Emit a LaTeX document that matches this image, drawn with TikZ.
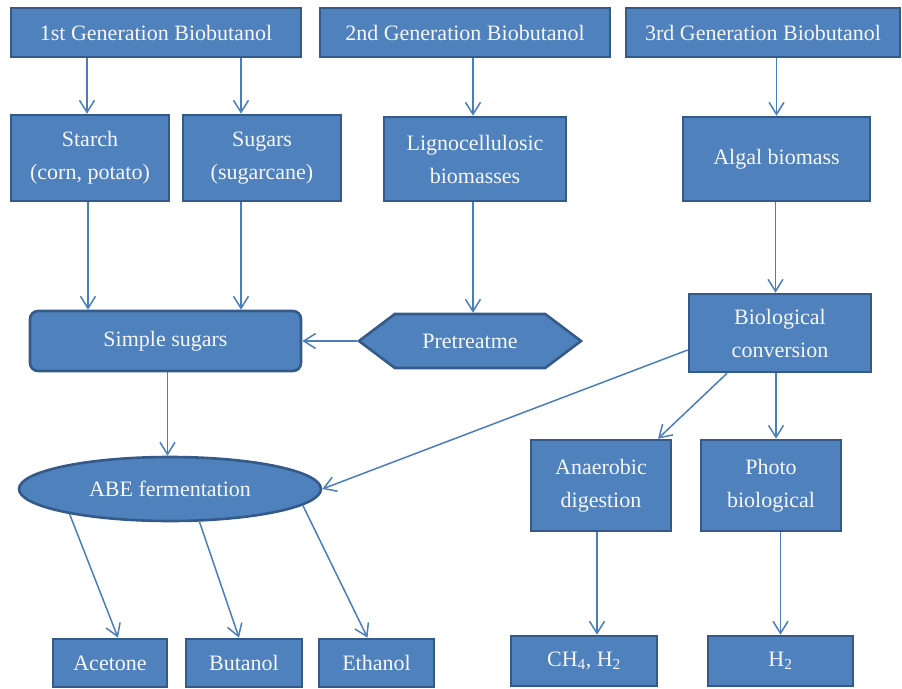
\documentclass[tikz,border=0pt]{standalone}
\usepackage{fontspec}
\setmainfont{Liberation Serif}
\usepackage{tikz}
\usetikzlibrary{arrows.meta}
\usetikzlibrary{shapes.geometric}
\usetikzlibrary{shapes.symbols}
\definecolor{boxblue}{HTML}{4F81BD}
\definecolor{edgeblue}{HTML}{335A88}
\definecolor{arrowblue}{HTML}{4A7EBB}

\begin{document}
\begin{tikzpicture}[x=1pt,y=-1pt,
    box/.style={draw=edgeblue,fill=boxblue,line width=2.6pt,text=white!94!boxblue,
      font=\fontsize{22}{33}\selectfont,align=center,inner sep=2pt},
    flow/.style={arrowblue,line width=1.5pt,-{Straight Barb[length=12pt,width=15pt]}}]
\useasboundingbox (0,0) rectangle (902,688);
\node[box,minimum width=290,minimum height=49] (gen1) at (156,32.5) {1st Generation Biobutanol};
\node[box,minimum width=290,minimum height=49] (gen2) at (465,32.5) {2nd Generation Biobutanol};
\node[box,minimum width=274,minimum height=49] (gen3) at (763,32.5) {3rd Generation Biobutanol};
\node[box,minimum width=158,minimum height=86] (starch) at (90,158) {Starch\\(corn, potato)};
\node[box,minimum width=158,minimum height=86] (sugars) at (262,158) {Sugars\\(sugarcane)};
\node[box,minimum width=182,minimum height=84] (ligno) at (475,159) {Lignocellulosic\\biomasses};
\node[box,minimum width=187,minimum height=84] (algal) at (776.5,159) {Algal biomass};
\node[box,rounded corners=8pt,minimum width=271,minimum height=60] (simple) at (165.5,341) {Simple sugars};
\node[box,signal,signal to=west and east,signal pointer angle=74,
      minimum width=222,minimum height=54] (pretreat) at (470,341) {Pretreatme};
\node[box,minimum width=182,minimum height=78] (bio) at (780,333) {Biological\\conversion};
\node[box,ellipse,minimum width=302,minimum height=64] (abe) at (170,489) {ABE fermentation};
\node[box,minimum width=140,minimum height=91] (anaer) at (601,485.5) {Anaerobic\\digestion};
\node[box,minimum width=140,minimum height=91] (photo) at (771,485.5) {Photo\\biological};
\node[box,minimum width=114,minimum height=48] (acetone) at (110,663) {Acetone};
\node[box,minimum width=116,minimum height=48] (butanol) at (244,663) {Butanol};
\node[box,minimum width=115,minimum height=48] (ethanol) at (376.5,663) {Ethanol};
\node[box,minimum width=146,minimum height=50] (ch4) at (584,661) {CH\textsubscript{4}, H\textsubscript{2}};
\node[box,minimum width=145,minimum height=50] (htwo) at (780.5,661) {H\textsubscript{2}};

\draw[flow] ([xshift=-3pt]starch.north |- gen1.south) -- ([xshift=-3pt]starch.north);
\draw[flow] ([xshift=-21pt]sugars.north |- gen1.south) -- ([xshift=-21pt]sugars.north);
\draw[flow] ([xshift=-2pt]ligno.north |- gen2.south) -- ([xshift=-2pt]ligno.north);
\draw[flow] (algal.north |- gen3.south) -- (algal.north);
\draw[flow] ([xshift=-2pt]starch.south) -- ([xshift=-2pt]starch.south |- simple.north);
\draw[flow] ([xshift=-21pt]sugars.south) -- ([xshift=-21pt]sugars.south |- simple.north);
\draw[flow] ([xshift=-2pt]ligno.south) -- ([xshift=-2pt]ligno.south |- pretreat.north);
\draw[flow] (pretreat.west) -- (simple.east);
\draw[flow] ([xshift=-1pt]algal.south) -- ([xshift=-1pt]algal.south |- bio.north);
\draw[flow] ([xshift=2pt]simple.south) -- ([xshift=2pt]simple.south |- abe.north);
\draw[flow] ([yshift=-17pt]bio.west) -- (abe.east);
\draw[flow] ([xshift=-53pt]bio.south) -- ([xshift=57pt]anaer.north);
\draw[flow] ([xshift=-4pt]bio.south) -- ([xshift=-4pt]bio.south |- photo.north);
\draw[flow] ([xshift=-4pt]anaer.south) -- ([xshift=-4pt]anaer.south |- ch4.north);
\draw[flow] (htwo.north |- photo.south) -- (htwo.north);
\draw[flow] (abe.194) -- ([xshift=8pt]acetone.north);
\draw[flow] (abe.-48) -- ([xshift=-5pt]butanol.north);
\draw[flow] (abe.-7) -- ([xshift=-9pt]ethanol.north);
\end{tikzpicture}
\end{document}
